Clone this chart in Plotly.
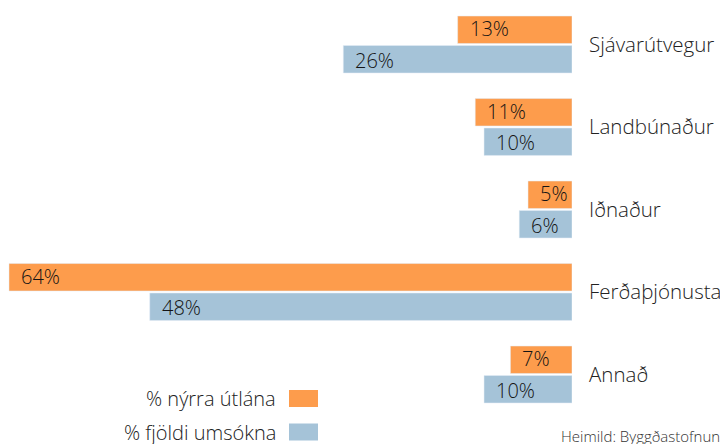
import plotly.graph_objects as go

categories = ["Sjávarútvegur", "Landbúnaður", "Iðnaður", "Ferðaþjónusta", "Annað"]
utlan = [13, 11, 5, 64, 7]          # % nýrra útlána
umsoknir = [26, 10, 6, 48, 10]      # % fjöldi umsókna
series_names = ["% nýrra útlána", "% fjöldi umsókna"]
source_text = "Heimild: Byggðastofnun"

ORANGE = "#FD9C4C"
BLUE = "#A5C3D8"
FONT = "Open Sans"
TXT = "#141414"
LBL = "#222222"

# the page adds an 8px body margin; lay out in figure coordinates
W, H = 720, 436
ML, MR, MT, MB = 0, 156, 0, 29
pw = W - ML - MR   # 564
ph = H - MT - MB   # 407

fig = go.Figure()
fig.add_trace(go.Bar(y=list(range(len(categories))), x=utlan, orientation="h", marker_color=ORANGE,
                     name=series_names[0], showlegend=False))
fig.add_trace(go.Bar(y=list(range(len(categories))), x=umsoknir, orientation="h", marker_color=BLUE,
                     name=series_names[1], showlegend=False))

annotations = []
for vals, shift in ((utlan, -16), (umsoknir, 15.5)):
    for i, v in enumerate(vals):
        annotations.append(dict(x=v, y=i, xref="x", yref="y", text=f"{v}%", showarrow=False,
                                xanchor="left", yanchor="middle", xshift=10, yshift=-shift,
                                font=dict(family=FONT, size=20, color=TXT, weight=300)))

def px_x(x):
    return (x - ML) / pw
def px_y(y):
    return (H - MB - y) / ph

for name, col, yc in ((series_names[0], ORANGE, 390.5), (series_names[1], BLUE, 424)):
    annotations.append(dict(x=px_x(270), y=px_y(yc), xref="paper", yref="paper", text=name,
                            showarrow=False, xanchor="right", yanchor="middle",
                            font=dict(family=FONT, size=20, color=LBL, weight=300)))
    fig.add_shape(type="rect", xref="paper", yref="paper",
                  x0=px_x(281), x1=px_x(310), y0=px_y(yc + 8.5), y1=px_y(yc - 8.5),
                  fillcolor=col, line=dict(width=0), layer="above")

annotations.append(dict(x=px_x(714), y=px_y(428), xref="paper", yref="paper", text=source_text,
                        showarrow=False, xanchor="right", yanchor="middle",
                        font=dict(family=FONT, size=15, color="#333333", weight=300)))

# category centres at figure y 36.5 + 82.5*i
y_top = -36.5 / 82.5
y_bot = (ph - 36.5) / 82.5

fig.update_layout(
    width=W, height=H,
    margin=dict(l=ML, r=MR, t=MT, b=MB, pad=0),
    paper_bgcolor="white", plot_bgcolor="white",
    barmode="group", bargap=0.285, bargroupgap=0.07,
    annotations=annotations,
    xaxis=dict(range=[pw / (563 / 64), 0], visible=False, fixedrange=True),
    yaxis=dict(range=[y_bot, y_top], side="right", showgrid=False, zeroline=False,
               showline=False, ticks="", ticklabelstandoff=16,
               tickmode="array", tickvals=list(range(len(categories))), ticktext=categories,
               tickfont=dict(family=FONT, size=20.5, color=LBL, weight=300)),
    font=dict(family=FONT),
)

fig.write_html("out.html")
